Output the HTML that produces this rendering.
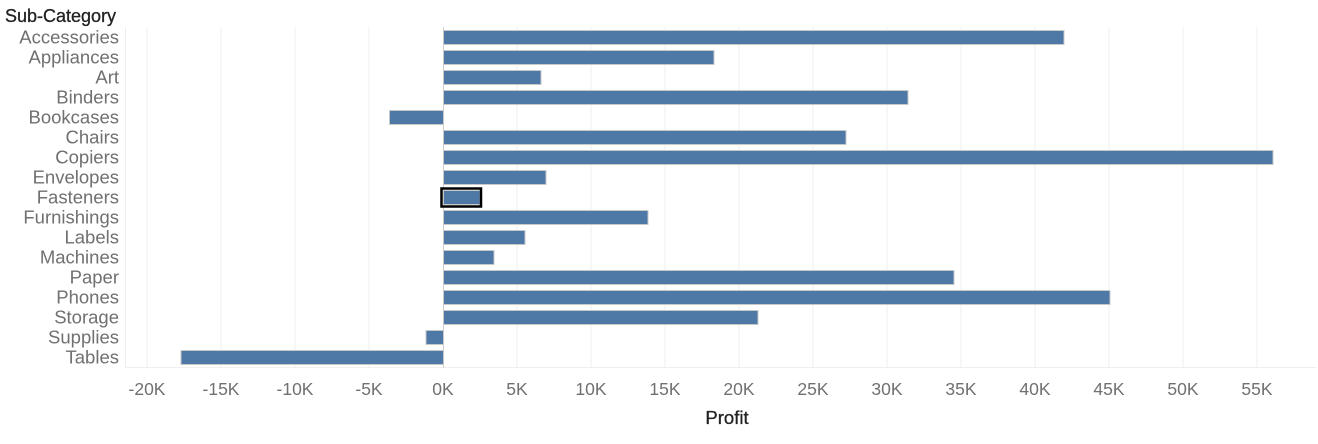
<!DOCTYPE html>
<html><head><meta charset="utf-8"><style>
body{margin:0;background:#fff;}
svg text{font-family:"Liberation Sans",sans-serif;}
</style></head><body>
<svg width="1318" height="439" xmlns="http://www.w3.org/2000/svg">
<rect width="1318" height="439" fill="#fff"/>
<text x="5" y="22" font-size="18" fill="#222" stroke="#222" stroke-width="0.3">Sub-Category</text>
<g stroke="#efefef" stroke-width="1">
<line x1="125.5" y1="27" x2="125.5" y2="367"/>
<line x1="147" y1="27" x2="147" y2="367"/>
<line x1="221" y1="27" x2="221" y2="367"/>
<line x1="295" y1="27" x2="295" y2="367"/>
<line x1="369" y1="27" x2="369" y2="367"/>
<line x1="517" y1="27" x2="517" y2="367"/>
<line x1="591" y1="27" x2="591" y2="367"/>
<line x1="665" y1="27" x2="665" y2="367"/>
<line x1="739" y1="27" x2="739" y2="367"/>
<line x1="813" y1="27" x2="813" y2="367"/>
<line x1="887" y1="27" x2="887" y2="367"/>
<line x1="961" y1="27" x2="961" y2="367"/>
<line x1="1035" y1="27" x2="1035" y2="367"/>
<line x1="1109" y1="27" x2="1109" y2="367"/>
<line x1="1183" y1="27" x2="1183" y2="367"/>
<line x1="1257" y1="27" x2="1257" y2="367"/>
<line x1="125" y1="367.5" x2="1316" y2="367.5"/>
</g>
<line x1="443.5" y1="27" x2="443.5" y2="368" stroke="#d0d0d0"/>
<g fill="#4e79a7" stroke="#c8c8c8" stroke-width="1">
<rect x="443.5" y="30.5" width="620.5" height="14"/>
<rect x="443.5" y="50.5" width="270.5" height="14"/>
<rect x="443.5" y="70.5" width="97.5" height="14"/>
<rect x="443.5" y="90.5" width="464.5" height="14"/>
<rect x="389.5" y="110.5" width="54" height="14"/>
<rect x="443.5" y="130.5" width="402.5" height="14"/>
<rect x="443.5" y="150.5" width="829.5" height="14"/>
<rect x="443.5" y="170.5" width="102.5" height="14"/>
<rect x="443.5" y="190.5" width="36.5" height="14"/>
<rect x="443.5" y="210.5" width="204.5" height="14"/>
<rect x="443.5" y="230.5" width="81.5" height="14"/>
<rect x="443.5" y="250.5" width="50.5" height="14"/>
<rect x="443.5" y="270.5" width="510.5" height="14"/>
<rect x="443.5" y="290.5" width="666.5" height="14"/>
<rect x="443.5" y="310.5" width="314.5" height="14"/>
<rect x="426" y="330.5" width="17.5" height="14"/>
<rect x="181" y="350.5" width="262.5" height="14"/>
</g>
<rect x="441.5" y="188.5" width="39.5" height="18" fill="none" stroke="#000" stroke-width="2.5"/>
<g font-size="18.5" fill="#707070" text-anchor="end">
<text x="119" y="43.5">Accessories</text>
<text x="119" y="63.5">Appliances</text>
<text x="119" y="83.5">Art</text>
<text x="119" y="103.5">Binders</text>
<text x="119" y="123.5">Bookcases</text>
<text x="119" y="143.5">Chairs</text>
<text x="119" y="163.5">Copiers</text>
<text x="119" y="183.5">Envelopes</text>
<text x="119" y="203.5">Fasteners</text>
<text x="119" y="223.5">Furnishings</text>
<text x="119" y="243.5">Labels</text>
<text x="119" y="263.5">Machines</text>
<text x="119" y="283.5">Paper</text>
<text x="119" y="303.5">Phones</text>
<text x="119" y="323.5">Storage</text>
<text x="119" y="343.5">Supplies</text>
<text x="119" y="363.5">Tables</text>
</g>
<g font-size="17.5" fill="#707070" text-anchor="middle">
<text x="147" y="395">-20K</text>
<text x="221" y="395">-15K</text>
<text x="295" y="395">-10K</text>
<text x="369" y="395">-5K</text>
<text x="443" y="395">0K</text>
<text x="517" y="395">5K</text>
<text x="591" y="395">10K</text>
<text x="665" y="395">15K</text>
<text x="739" y="395">20K</text>
<text x="813" y="395">25K</text>
<text x="887" y="395">30K</text>
<text x="961" y="395">35K</text>
<text x="1035" y="395">40K</text>
<text x="1109" y="395">45K</text>
<text x="1183" y="395">50K</text>
<text x="1257" y="395">55K</text>
</g>
<text x="727" y="424" font-size="18.5" fill="#222" stroke="#222" stroke-width="0.3" text-anchor="middle">Profit</text>
</svg>
</body></html>
